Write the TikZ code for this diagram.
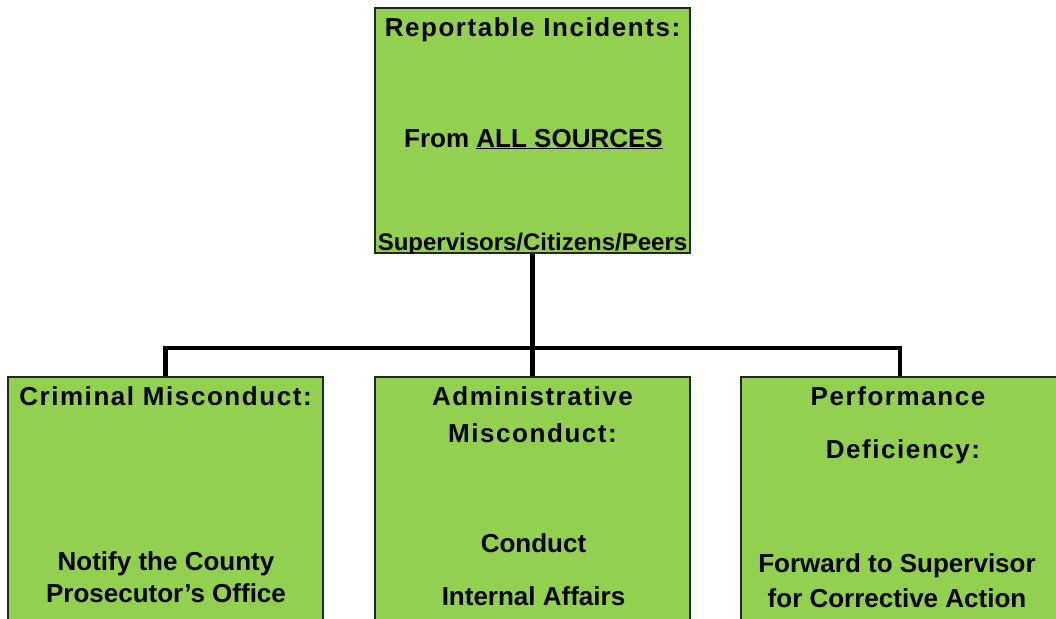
\documentclass[tikz,border=0pt]{standalone}
\usepackage{fontspec}
\setmainfont{Liberation Sans}
\newfontfamily\titlefont{Liberation Sans}[LetterSpace=6]
\newfontfamily\bodyfont{Liberation Sans}
\usetikzlibrary{positioning}
\definecolor{boxgreen}{RGB}{146,208,80}

\begin{document}
\begin{tikzpicture}[x=1pt,y=-1pt,
                    box/.style={rectangle,draw=black!85,line width=1.5pt,fill=boxgreen,
                                inner sep=0pt,minimum width=315pt},
                    title/.style={anchor=base,inner sep=0pt,
                                  font=\fontsize{26}{30}\selectfont\titlefont\bfseries},
                    txt/.style={anchor=base,inner sep=0pt,
                                font=\fontsize{26}{30}\selectfont\bodyfont\bfseries},
                    link/.style={line width=4.6pt}]
  \useasboundingbox (0,0) rectangle (1056,618);

  % boxes
  \node[box,minimum height=245pt] (rep) at (532.5,130.5) {};
  \node[box,minimum height=283pt] (crim) at (165.5,518.5) {};
  \node[box,minimum height=283pt] (admin) at (532.5,518.5) {};
  \node[box,minimum height=283pt,minimum width=318pt] (perf) at (900,518.5) {};

  % connectors
  \coordinate (bus) at (532.5,348);
  \draw[link] (rep.south) -- (admin.north);
  \draw[link] (crim.north) |- (bus) -| (perf.north);

  % top box
  \node[title] (reptitle) at (532.5,37) {Reportable Incidents:};
  \node[txt] (repsrc) at (533.5,147) {From \underline{ALL SOURCES}};
  \begin{scope}
    \clip (rep.south west) rectangle (rep.north east);
    \node[txt,font=\fontsize{24}{28}\selectfont\bodyfont\bfseries] (repwho) at (532.5,250)
      {Supervisors/Citizens/Peers};
  \end{scope}

  % criminal
  \node[title] (crimtitle) at (165.5,405) {Criminal Misconduct:};
  \node[txt] (crimact1) at (166,570) {Notify the County};
  \node[txt] (crimact2) at (166,602) {Prosecutor’s Office};

  % administrative
  \node[title] (admintitle1) at (532.5,405) {Administrative};
  \node[title] (admintitle2) at (532.5,442) {Misconduct:};
  \node[txt] (adminact1) at (533.5,552) {Conduct};
  \node[txt] (adminact2) at (533.5,605) {Internal Affairs};

  % performance
  \node[title] (perftitle1) at (898,405) {Performance};
  \node[title] (perftitle2) at (903,458) {Deficiency:};
  \node[txt] (perfact1) at (897,572) {Forward to Supervisor};
  \node[txt] (perfact2) at (897,607) {for Corrective Action};
\end{tikzpicture}
\end{document}
